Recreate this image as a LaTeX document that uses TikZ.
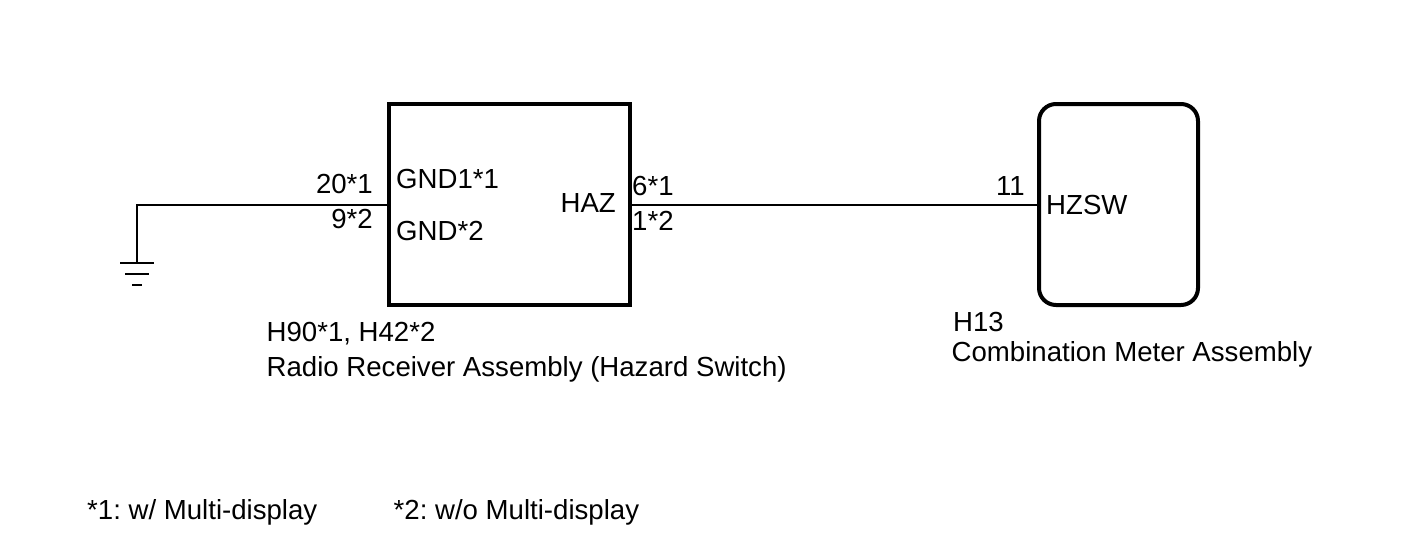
\documentclass[tikz,border=0pt]{standalone}
\usepackage{fontspec}
\setmainfont{Liberation Sans}
\frenchspacing
\begin{document}
\begin{tikzpicture}[x=1pt,y=-1pt,
  lbl/.style={inner sep=0pt, font=\fontsize{27.6}{30}\selectfont},
  wire/.style={line width=2pt},
  ecu/.style={draw, line width=4pt, inner sep=0pt, anchor=north west},
  gndline/.style={line width=2.5pt}]
\useasboundingbox (0,0) rectangle (1424,558);
% boxes
\node[ecu, minimum width=241.5pt, minimum height=201pt] (rr) at (386.5,102) {};
\node[ecu, rounded corners=17pt, minimum width=159pt, minimum height=201pt] (cm) at (1037,102) {};
% ground
\coordinate (gnd) at (137,263);
\draw[wire] (gnd) |- (rr.west);
\draw[gndline] ([xshift=-17pt]gnd) -- ([xshift=17pt]gnd);
\draw[gndline] ([xshift=-12pt,yshift=-11pt]gnd) -- ([xshift=12pt,yshift=-11pt]gnd);
\draw[gndline] ([xshift=-5pt,yshift=-22pt]gnd) -- ([xshift=5pt,yshift=-22pt]gnd);
% main wire
\draw[wire] (rr.east) -- (cm.west);
% pin labels
\node[lbl, anchor=base east] (p20) at (373,193.5) {20*1};
\node[lbl, anchor=base east] (p9) at (373,228.5) {9*2};
\node[lbl, anchor=base west] (g1) at (396,188.5) {GND1*1};
\node[lbl, anchor=base west] (g2) at (396,240) {GND*2};
\node[lbl, anchor=base east] (haz) at (616,212.5) {HAZ};
\node[lbl, anchor=base west] (p6) at (632,195) {6*1};
\node[lbl, anchor=base west] (p1) at (632,230) {1*2};
\node[lbl, anchor=base east] (p11) at (1025,195) {11};
\node[lbl, anchor=base west] (hz) at (1046,214) {HZSW};
% component names
\node[lbl, anchor=base west] (n1) at (266.5,341) {H90*1, H42*2};
\node[lbl, anchor=base west] (n2) at (266.5,376) {Radio Receiver Assembly (Hazard Switch)};
\node[lbl, anchor=base west] (n3) at (953,331.5) {H13};
\node[lbl, anchor=base west] (n4) at (951.5,361) {Combination Meter Assembly};
% notes
\node[lbl, anchor=base west] (f1) at (87,519.5) {*1: w/ Multi-display};
\node[lbl, anchor=base west] (f2) at (393.5,519.5) {*2: w/o Multi-display};
\end{tikzpicture}
\end{document}
